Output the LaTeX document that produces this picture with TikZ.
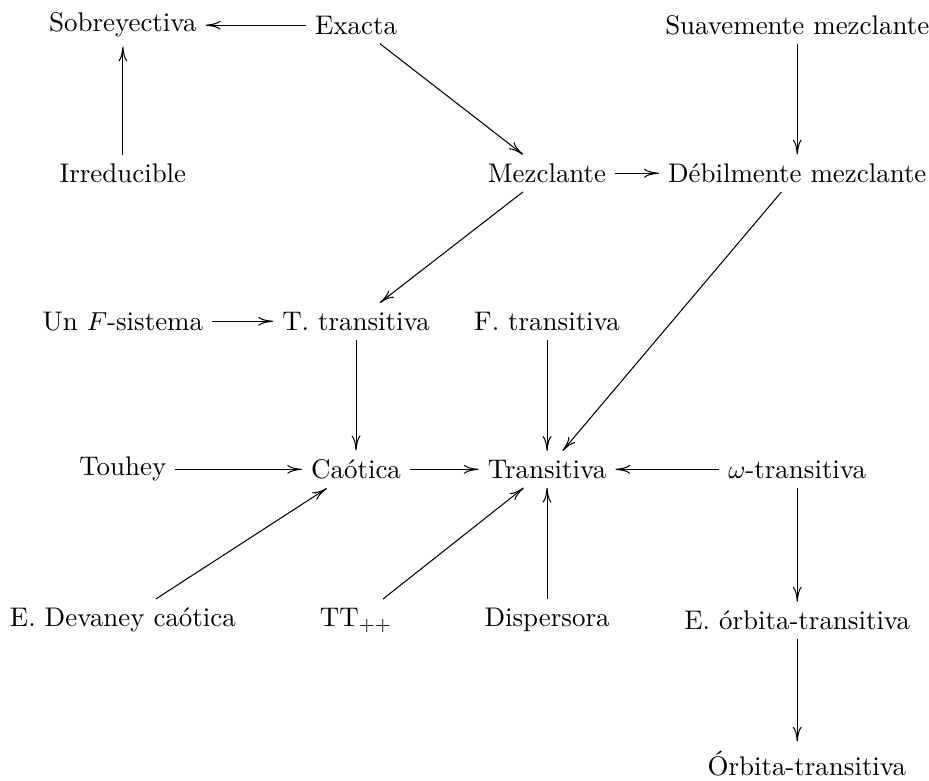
\documentclass[tikz,border=0pt]{standalone}
\usetikzlibrary{arrows.meta}
\begin{document}
\begin{tikzpicture}[>={Computer Modern Rightarrow[length=2mm,width=1.2mm]},
  every node/.style={font=\fontsize{10.35pt}{12pt}\selectfont}]
  \useasboundingbox (0,0) rectangle (12.55,-10.55);

  \node (sob) at (1.66,-0.34) []{Sobreyectiva};
  \node (exa) at (4.81,-0.34) []{Exacta};
  \node (sua) at (10.77,-0.34) []{Suavemente mezclante};

  \node (irr) at (1.66,-2.34) []{Irreducible};
  \node (mez) at (7.39,-2.34) []{Mezclante};
  \node (deb) at (10.77,-2.34) []{D\'ebilmente mezclante};

  \node (fsis) at (1.66,-4.34) []{Un $F$-sistema};
  \node (ttr) at (4.81,-4.34) []{T. transitiva};
  \node (ftr) at (7.39,-4.34) []{F. transitiva};

  \node (tou) at (1.66,-6.34) []{Touhey};
  \node (cao) at (4.81,-6.34) []{Ca\'otica};
  \node (tra) at (7.39,-6.34) []{Transitiva};
  \node (otr) at (10.77,-6.34) []{$\omega$-transitiva};

  \node (dev) at (1.66,-8.38) []{E. Devaney ca\'otica};
  \node (tpp) at (4.81,-8.38) []{TT$_{++}$};
  \node (dis) at (7.39,-8.38) []{Dispersora};
  \node (eorb) at (10.77,-8.38) []{E. \'orbita-transitiva};

  \node (orb) at (10.9,-10.31) []{\'Orbita-transitiva};


  \draw[->] (exa) -- (sob);
  \draw[->] (irr) -- (sob);
  \draw[->] (exa) -- (mez);
  \draw[->] (sua) -- (deb);
  \draw[->] (mez) -- (deb);

  \draw[->] (mez) -- (ttr);
  \draw[->] (deb) -- (tra);
  \draw[->] (fsis) -- (ttr);
  \draw[->] (ttr) -- (cao);
  \draw[->] (ftr) -- (tra);

  \draw[->] (tou) -- (cao);
  \draw[->] (cao) -- (tra);
  \draw[->] (otr) -- (tra);

  \draw[->] (dev) -- (cao);
  \draw[->] (tpp) -- (tra);
  \draw[->] (dis) -- (tra);
  \draw[->] (otr) -- (eorb);
  \draw[->] (eorb) -- (orb.north -| eorb);

\end{tikzpicture}
\end{document}
